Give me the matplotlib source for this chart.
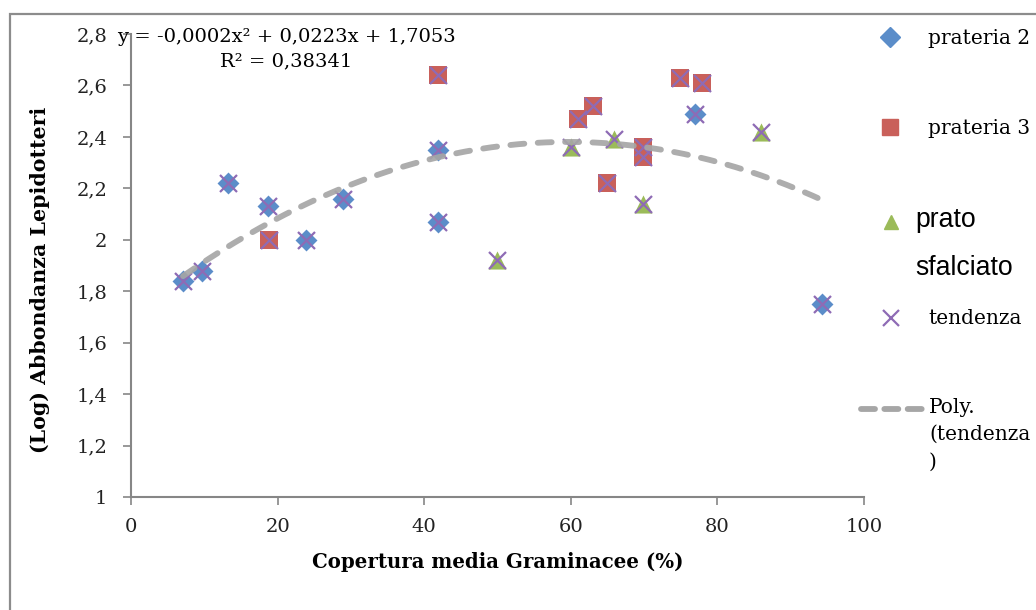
import numpy as np
import matplotlib
matplotlib.use("Agg")
import matplotlib.pyplot as plt
from matplotlib.patches import Rectangle


# -----------------------------
# Data
# -----------------------------

prateria2_x = [7.1, 9.7, 13.2, 18.7, 23.9, 28.9, 41.9, 41.9, 76.9, 94.3]
prateria2_y = [1.84, 1.88, 2.22, 2.13, 2.00, 2.16, 2.35, 2.07, 2.49, 1.75]

prateria3_x = [18.8, 41.9, 61.0, 63.0, 74.9, 77.9, 69.8, 69.8, 64.9]
prateria3_y = [2.00, 2.64, 2.47, 2.52, 2.63, 2.61, 2.36, 2.32, 2.22]

prato_x = [60.0, 65.9, 69.8, 85.9, 49.9]
prato_y = [2.36, 2.39, 2.14, 2.42, 1.92]

x_ticks = [0, 20, 40, 60, 80, 100]
y_ticks = [1.0, 1.2, 1.4, 1.6, 1.8, 2.0, 2.2, 2.4, 2.6, 2.8]
y_tick_labels = ["1", "1,2", "1,4", "1,6", "1,8", "2", "2,2", "2,4", "2,6", "2,8"]

equation = "y = -0,0002x\u00b2 + 0,0223x + 1,7053\nR\u00b2 = 0,38341"

# "tendenza" is every point together
tend_x = np.array(prateria2_x + prateria3_x + prato_x)
tend_y = np.array(prateria2_y + prateria3_y + prato_y)

blue = "#5B8DC9"
red = "#C9605A"
green = "#9BBB59"
purple = "#8E6BB5"
grey = "#A6A6A6"
axis_grey = "#868686"

serif = "DejaVu Serif"
sans = "Liberation Sans"
fs = 14

# -----------------------------
# Figure
# -----------------------------

fig = plt.figure(figsize=(10.36, 6.10), dpi=100)
W, H = 1036, 610

# outer frame of the chart area
fig.add_artist(Rectangle((10 / W, -0.1), 1.2, 1.1 - 14 / H, transform=fig.transFigure,
                         fill=False, edgecolor="#8C8C8C", linewidth=1.6))

ax = fig.add_axes([131 / W, 1 - 497 / H, (864 - 131) / W, (497 - 34) / H])

ax.scatter(prateria2_x, prateria2_y, marker="D", s=125, color=blue, linewidths=0, zorder=3)
ax.scatter(prateria3_x, prateria3_y, marker="s", s=175, color=red, linewidths=0, zorder=3)
ax.scatter(prato_x, prato_y, marker="^", s=170, color=green, linewidths=0, zorder=3)
ax.scatter(tend_x, tend_y, marker="x", s=150, color=purple, linewidths=1.6, zorder=4)

# polynomial trend (2nd order)
coef = np.polyfit(tend_x, tend_y, 2)
xs = np.linspace(tend_x.min(), tend_x.max(), 200)
ax.plot(xs, np.polyval(coef, xs), color=grey, linewidth=4.2, alpha=0.92,
        dashes=(2.4, 2.3), dash_capstyle="round", zorder=5)

ax.set_xlim(0, 100)
ax.set_ylim(1, 2.8)
ax.set_xticks(x_ticks)
ax.set_yticks(y_ticks)
ax.set_yticklabels(y_tick_labels)

for side in ["top", "right"]:
    ax.spines[side].set_visible(False)
for side in ["left", "bottom"]:
    ax.spines[side].set_color(axis_grey)
    ax.spines[side].set_linewidth(1.5)

ax.tick_params(axis="both", direction="out", length=6, width=1.2, color=axis_grey,
               labelsize=fs, labelcolor="#222222")
ax.tick_params(axis="y", pad=11)
ax.tick_params(axis="x", pad=9)
for lab in ax.get_xticklabels() + ax.get_yticklabels():
    lab.set_fontfamily(serif)

ax.set_xlabel("Copertura media Graminacee (%)", fontsize=14.2, fontweight="bold",
              fontfamily=serif, labelpad=12)
ax.set_ylabel("(Log) Abbondanza Lepidotteri", fontsize=14.8, fontweight="bold",
              fontfamily=serif)
ax.yaxis.set_label_coords(-0.111, 0.47)

ax.text(0.212, 1.012, equation, transform=ax.transAxes, ha="center", va="top",
        fontsize=fs, fontfamily=serif, linespacing=1.4, clip_on=False, zorder=6)

# -----------------------------
# Legend (right side)
# -----------------------------

lax = fig.add_axes([0, 0, 1, 1], facecolor="none")
lax.set_xlim(0, W)
lax.set_ylim(H, 0)
lax.axis("off")

lax.plot([890], [37], marker="D", markersize=10, color=blue, linestyle="none")
lax.text(928, 38, "prateria 2", fontsize=14.5, fontfamily=serif, va="center")

lax.plot([890], [127], marker="s", markersize=12, color=red, linestyle="none")
lax.text(928, 129, "prateria 3", fontsize=14.5, fontfamily=serif, va="center")

lax.plot([891], [222], marker="^", markersize=10, color=green, linestyle="none")
lax.text(915, 207, "prato\nsfalciato", fontsize=19.2, fontfamily=sans, va="top",
         linespacing=2.1)

lax.plot([891], [318], marker="x", markersize=11, color=purple, markeredgewidth=1.6,
         linestyle="none")
lax.text(928, 318, "tendenza", fontsize=14.5, fontfamily=serif, va="center")

lax.plot([861, 922], [409, 409], color=grey, linewidth=4.2, dashes=(2.4, 1.6),
         dash_capstyle="round")
lax.text(929, 398, "Poly.\n(tendenza\n)", fontsize=14.5, fontfamily=serif, va="top",
         linespacing=1.55)

plt.savefig("out.png", dpi=100)
